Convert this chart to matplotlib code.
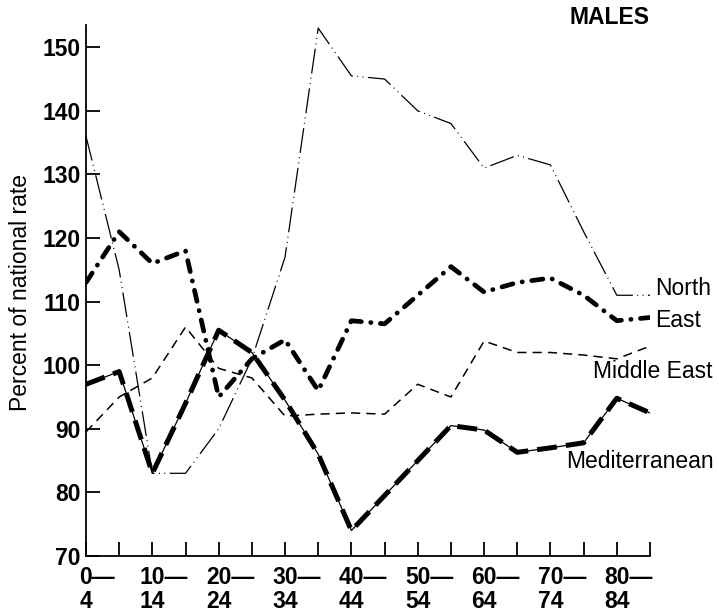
import matplotlib.pyplot as plt
from matplotlib import transforms

# Age groups (5-year bands, 0-4 ... 85+)
age_groups = ['0-4', '5-9', '10-14', '15-19', '20-24', '25-29', '30-34', '35-39',
              '40-44', '45-49', '50-54', '55-59', '60-64', '65-69', '70-74',
              '75-79', '80-84', '85+']
# Labelled ticks: (start of band, end of band)
label_start = ['0', '10', '20', '30', '40', '50', '60', '70', '80']
label_end = ['4', '14', '24', '34', '44', '54', '64', '74', '84']

# Percent of national rate per region
north = [136, 115, 83, 83, 90, 101, 117, 153, 145.5, 145, 140, 138, 131, 133, 131.5, 121, 111, 111]
east = [113, 121, 116, 118, 95, 101, 104, 96, 107, 106.5, 111, 115.5, 111.5, 113, 113.7, 111, 107, 107.5]
middle_east = [89.5, 95, 98, 106, 99.5, 98, 92, 92.3, 92.5, 92.3, 97, 95, 103.8, 102, 102, 101.6, 101, 103]
mediterranean = [97, 99, 83, 94, 105.5, 102, 94.5, 86, 74, 79.5, 85, 90.5, 89.8, 86.3, 87, 87.8, 94.8, 92.5]

plt.rcParams['font.family'] = ['Liberation Sans', 'DejaVu Sans']
FS = 16.5

fig = plt.figure(figsize=(7.19, 6.14), dpi=100)
ax = fig.add_axes([0.1196, 0.0945, 0.7844, 0.8648])

x = list(range(len(age_groups)))

# North: thin dash-dot-dot
ax.plot(x, north, color='black', linewidth=0.9,
        dashes=(20, 3.5, 0.8, 3.5, 0.8, 3.5))

# East: thick dash-dot
ax.plot(x, east, color='black', linewidth=3.4, dash_capstyle='round',
        dashes=(2.4, 2.0, 0.05, 2.0))

# Middle East: thin dashed
ax.plot(x, middle_east, color='black', linewidth=1.1, dashes=(6, 4))

# Mediterranean: thick dashes over a thin line
ax.plot(x, mediterranean, color='black', linewidth=0.9)
ax.plot(x, mediterranean, color='black', linewidth=3.6, dashes=(4.0, 1.8))

# Region labels at the right end of the lines
ax.text(17.15, 112, 'North', fontsize=FS, va='center', ha='left', clip_on=False)
ax.text(17.15, 107, 'East', fontsize=FS, va='center', ha='left', clip_on=False)
ax.text(15.28, 99, 'Middle East', fontsize=FS, va='center', ha='left', clip_on=False)
ax.text(14.47, 84.8, 'Mediterranean', fontsize=FS, va='center', ha='left', clip_on=False)

fig.text(0.848, 0.972, 'MALES', fontsize=FS, fontweight='bold', ha='center', va='center')

# Axes formatting
ax.set_xlim(0, 17)
ax.set_ylim(70, 153.5)
ax.set_xticks(x)
ax.set_xticklabels([])
ax.set_yticks(range(70, 151, 10))
ax.set_yticklabels([str(v) for v in range(70, 151, 10)], fontsize=FS, fontweight='bold')
ax.tick_params(axis='both', direction='in', length=10, width=1.3, color='black')
ax.tick_params(axis='y', pad=4)

# Two-line x labels: number centred on the tick, dash hanging to the right
xtrans = ax.get_xaxis_transform()
digit_w = 0.556 * FS
for k, (s, e) in enumerate(zip(label_start, label_end)):
    xi = 2 * k
    t1 = transforms.offset_copy(xtrans, fig=fig, x=-len(s) * digit_w / 2, y=-20.5, units='points')
    ax.text(xi, 0, s + '\u2014', transform=t1, fontsize=FS, fontweight='bold',
            ha='left', va='baseline')
    t2 = transforms.offset_copy(xtrans, fig=fig, x=0, y=-37.5, units='points')
    ax.text(xi, 0, e, transform=t2, fontsize=FS, fontweight='bold',
            ha='center', va='baseline')

ax.spines['top'].set_visible(False)
ax.spines['right'].set_visible(False)
ax.spines['left'].set_linewidth(1.3)
ax.spines['bottom'].set_linewidth(1.3)

fig.text(0.028, 0.523, 'Percent of national rate', fontsize=FS, rotation=90,
         ha='center', va='center')

plt.savefig('out.png', dpi=100)
